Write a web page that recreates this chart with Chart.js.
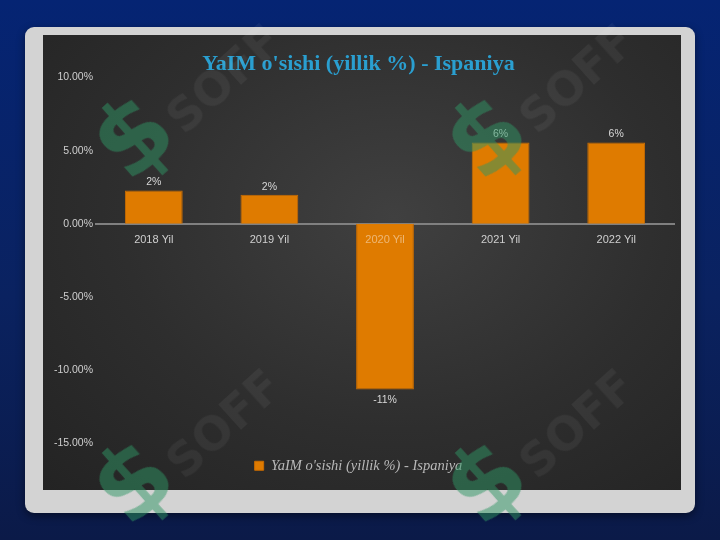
<!DOCTYPE html>
<html>
<head>
<meta charset="utf-8">
<script src="https://cdn.jsdelivr.net/npm/chart.js@4.4.1/dist/chart.umd.min.js"></script>
<style>
    html, body { margin: 0; padding: 0; }
    body {
        width: 720px; height: 540px; overflow: hidden; position: relative;
        background: linear-gradient(180deg, #052473 0%, #0a2260 55%, #0b1a48 100%);
    }
    .card {
        position: absolute; left: 25px; top: 27px; width: 670px; height: 486px;
        background: #d3d3d3; border-radius: 9px;
        box-shadow: 0 3px 8px rgba(0,0,0,0.45);
    }
    .chart-box {
        position: absolute; left: 43px; top: 35px; width: 638px; height: 455px;
        background: radial-gradient(ellipse at 55% 40%, #404040 0%, #2e2e2e 55%, #232323 100%);
    }
    .wm {
        position: absolute; pointer-events: none;
        font-family: "DejaVu Sans", sans-serif; font-weight: bold;
        transform: rotate(-42deg);
    }
    .wm .logo { color: rgba(45, 150, 100, 0.5); font-size: 100px; line-height: 1; }
    .wm .txt { color: rgba(255, 255, 255, 0.05); font-size: 46px; margin-left: 4px; }
</style>
</head>
<body>
<div class="card"></div>
<div class="chart-box"><canvas id="growthChart" width="638" height="455"></canvas></div>
<div class="wm" style="left:80px; top:40px;"><span class="logo">$</span><span class="txt">SOFF</span></div>
<div class="wm" style="left:433px; top:40px;"><span class="logo">$</span><span class="txt">SOFF</span></div>
<div class="wm" style="left:80px; top:385px;"><span class="logo">$</span><span class="txt">SOFF</span></div>
<div class="wm" style="left:433px; top:385px;"><span class="logo">$</span><span class="txt">SOFF</span></div>
<script>
const years = ["2018 Yil", "2019 Yil", "2020 Yil", "2021 Yil", "2022 Yil"];
const growth = [2.28, 1.98, -11.32, 5.55, 5.55];
const seriesName = "YaIM o'sishi (yillik %) - Ispaniya";

// labels above / below each bar
const barLabels = {
    id: "barLabels",
    afterDatasetsDraw(chart) {
        const c = chart.ctx;
        const meta = chart.getDatasetMeta(0);
        c.save();
        c.font = "10.5px 'Liberation Sans', Arial, sans-serif";
        c.fillStyle = "#d8d8d8";
        c.textAlign = "center";
        c.textBaseline = "middle";
        meta.data.forEach(function (bar, i) {
            const v = growth[i];
            const y = v >= 0 ? bar.y - 8 : bar.y + 10;
            c.fillText(Math.round(v) + "%", bar.x, y);
        });
        c.restore();
    }
};

const ctx = document.getElementById("growthChart");

new Chart(ctx, {
    type: "bar",
    data: {
        labels: years,
        datasets: [{
            label: seriesName,
            data: growth,
            backgroundColor: "#df7b00",
            borderColor: "#c96c00",
            borderWidth: 1,
            barPercentage: 0.5,
            categoryPercentage: 1
        }]
    },
    options: {
        responsive: false,
        animation: false,
        layout: { padding: { left: 0, right: 7, top: 16, bottom: 7 } },
        plugins: {
            title: {
                display: true,
                text: seriesName,
                color: "#2a9fd0",
                font: { family: "'Liberation Serif', 'Times New Roman', serif", size: 22, weight: "bold" },
                padding: { top: 0, bottom: 0 }
            },
            legend: {
                position: "bottom",
                labels: {
                    color: "#b8b8b8",
                    boxWidth: 9,
                    boxHeight: 9,
                    padding: 15,
                    font: { family: "'Liberation Serif', 'Times New Roman', serif", size: 14.5, style: "italic" }
                }
            },
            tooltip: { enabled: false }
        },
        scales: {
            x: {
                position: { y: 0 },
                grid: { display: false },
                border: { color: "#808080", width: 2 },
                ticks: {
                    z: 1,
                    color: function (c) { return c.index === 2 ? "rgba(255, 255, 255, 0.45)" : "#cfcfcf"; },
                    padding: 2,
                    font: { family: "'Liberation Sans', Arial, sans-serif", size: 11 }
                }
            },
            y: {
                min: -15,
                max: 10,
                grid: { display: false, tickLength: 0 },
                border: { display: false },
                afterFit: function (scale) { scale.width = 53; },
                ticks: {
                    stepSize: 5,
                    color: "#cfcfcf",
                    padding: 3,
                    font: { family: "'Liberation Sans', Arial, sans-serif", size: 10.5 },
                    callback: function (v) { return v.toFixed(2) + "%"; }
                }
            }
        }
    },
    plugins: [barLabels]
});
</script>
</body>
</html>
